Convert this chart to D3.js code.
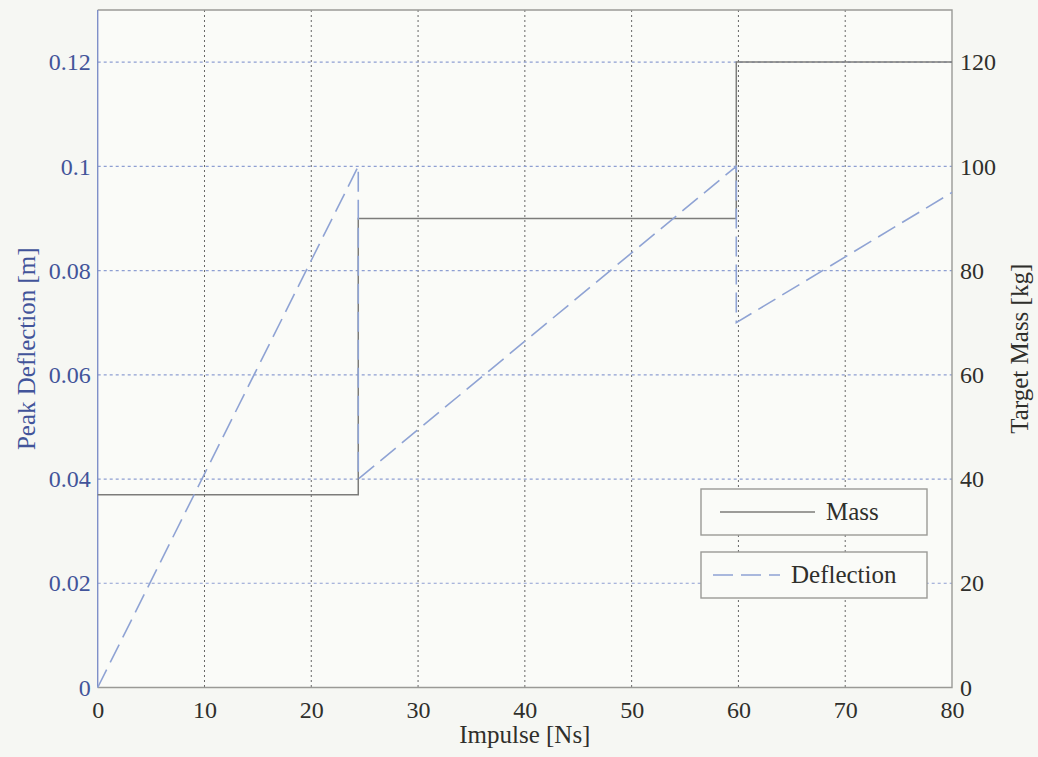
<!DOCTYPE html>
<html>
<head>
<meta charset="utf-8">
<script src="https://cdn.jsdelivr.net/npm/d3@7/dist/d3.min.js"></script>
<style>
  html, body { margin: 0; padding: 0; background: #f6f7f3; }
  svg { display: block; }
  text { font-family: "Liberation Serif", "Times New Roman", serif; }
</style>
</head>
<body>
<svg id="chart" width="1038" height="757"></svg>
<script>
// Impulse values and readings for the two series
const impulseTicks = [0, 10, 20, 30, 40, 50, 60, 70, 80];
const deflectionTicks = [0, 0.02, 0.04, 0.06, 0.08, 0.1, 0.12];
const massTicks = [0, 20, 40, 60, 80, 100, 120];

// Target mass (step function of impulse)
const massImpulse = [0, 24.4, 24.4, 59.8, 59.8, 80];
const massValues  = [37, 37, 90, 90, 120, 120];

// Peak deflection (drops whenever the mass steps up)
const deflImpulse = [0, 24.4, 24.4, 59.8, 59.8, 80];
const deflValues  = [0, 0.1, 0.04, 0.1, 0.07, 0.095];

const svg = d3.select("#chart");
const plotLeft = 97.7, plotRight = 952, plotTop = 10, plotBottom = 687.5;

const x = d3.scaleLinear().domain([0, 80]).range([plotLeft, plotRight]);
const yL = d3.scaleLinear().domain([0, 0.13]).range([plotBottom, plotTop]);
const yR = d3.scaleLinear().domain([0, 130]).range([plotBottom, plotTop]);

const blue = "#42549a";
const ink = "#2f2f2b";
const frameGray = "#9a9a96";

// plot area
svg.append("rect").attr("x", plotLeft).attr("y", plotTop)
  .attr("width", plotRight - plotLeft).attr("height", plotBottom - plotTop)
  .attr("fill", "#fafbf8");

// vertical grid (dark dotted)
svg.append("g").selectAll("line").data(impulseTicks.slice(1, -1)).join("line")
  .attr("x1", d => x(d)).attr("x2", d => x(d))
  .attr("y1", plotTop).attr("y2", plotBottom)
  .attr("stroke", "#666").attr("stroke-width", 1)
  .attr("stroke-dasharray", "2,3");

// horizontal grid (blue dotted)
svg.append("g").selectAll("line").data(deflectionTicks.slice(1)).join("line")
  .attr("x1", plotLeft).attr("x2", plotRight)
  .attr("y1", d => yL(d)).attr("y2", d => yL(d))
  .attr("stroke", "#8e9fd2").attr("stroke-width", 1.2)
  .attr("stroke-dasharray", "3,3");

// frame
svg.append("path")
  .attr("d", `M${plotLeft},${plotTop}H${plotRight}V${plotBottom}H${plotLeft}`)
  .attr("fill", "none").attr("stroke", frameGray).attr("stroke-width", 1.4);
svg.append("line").attr("x1", plotLeft).attr("x2", plotLeft).attr("y1", plotTop).attr("y2", plotBottom)
  .attr("stroke", "#7f90c8").attr("stroke-width", 1.4);

// series
const massLine = d3.line().x((d, i) => x(massImpulse[i])).y(d => yR(d));
svg.append("path").datum(massValues)
  .attr("d", massLine)
  .attr("fill", "none").attr("stroke", "#7c7c7a").attr("stroke-width", 1.5);

const deflLine = d3.line().x((d, i) => x(deflImpulse[i])).y(d => yL(d));
svg.append("path").datum(deflValues)
  .attr("d", deflLine)
  .attr("fill", "none").attr("stroke", "#8fa3d4").attr("stroke-width", 1.6)
  .attr("stroke-dasharray", "20,8");

// axes
const fs = 24;
const xAxis = svg.append("g").attr("transform", `translate(0,${plotBottom})`)
  .call(d3.axisBottom(x).tickValues(impulseTicks).tickSize(0).tickPadding(13));
xAxis.select(".domain").remove();
xAxis.selectAll("text").attr("font-size", fs).attr("fill", ink)
  .attr("font-family", "Liberation Serif");

const yAxisL = svg.append("g").attr("transform", `translate(${plotLeft},0)`)
  .call(d3.axisLeft(yL).tickValues(deflectionTicks).tickSize(0).tickPadding(7)
    .tickFormat(d => d === 0 ? "0" : d3.format("")(+d.toFixed(2))));
yAxisL.select(".domain").remove();
yAxisL.selectAll("text").attr("font-size", fs).attr("fill", blue)
  .attr("font-family", "Liberation Serif");

const yAxisR = svg.append("g").attr("transform", `translate(${plotRight},0)`)
  .call(d3.axisRight(yR).tickValues(massTicks).tickSize(0).tickPadding(8));
yAxisR.select(".domain").remove();
yAxisR.selectAll("text").attr("font-size", fs).attr("fill", ink)
  .attr("font-family", "Liberation Serif");

// axis titles
svg.append("text").attr("x", (plotLeft + plotRight) / 2).attr("y", 743)
  .attr("text-anchor", "middle").attr("font-size", 25).attr("fill", ink)
  .text("Impulse [Ns]");
svg.append("text")
  .attr("transform", `translate(35,${(plotTop + plotBottom) / 2}) rotate(-90)`)
  .attr("text-anchor", "middle").attr("font-size", 25).attr("fill", blue)
  .text("Peak Deflection [m]");
svg.append("text")
  .attr("transform", `translate(1028,${(plotTop + plotBottom) / 2}) rotate(-90)`)
  .attr("text-anchor", "middle").attr("font-size", 25).attr("fill", ink)
  .text("Target Mass [kg]");

// legends (one box per series)
const legends = [
  { label: "Mass", y: 489, h: 46, stroke: "#7c7c7a", dash: null, x1: 720, x2: 815, tx: 826 },
  { label: "Deflection", y: 552, h: 46, stroke: "#8fa3d4", dash: "20,8", x1: 713, x2: 780, tx: 791 }
];
const lg = svg.append("g").selectAll("g").data(legends).join("g");
lg.append("rect").attr("x", 701).attr("y", d => d.y).attr("width", 226).attr("height", d => d.h)
  .attr("fill", "#fafbf8").attr("stroke", frameGray).attr("stroke-width", 1.4);
lg.append("line").attr("x1", d => d.x1).attr("x2", d => d.x2)
  .attr("y1", d => d.y + 23).attr("y2", d => d.y + 23)
  .attr("stroke", d => d.stroke).attr("stroke-width", 1.5)
  .attr("stroke-dasharray", d => d.dash);
lg.append("text").attr("x", d => d.tx).attr("y", d => d.y + 31)
  .attr("font-size", 25).attr("fill", ink).text(d => d.label);
</script>
</body>
</html>
